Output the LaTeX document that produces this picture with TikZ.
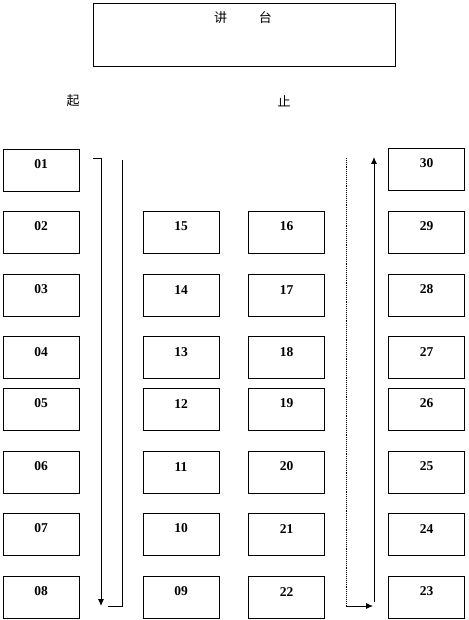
\documentclass[tikz,border=0pt]{standalone}
\usepackage{fontspec}
\setmainfont{Liberation Serif}
\newfontfamily\cjk{Noto Sans CJK SC}
\usetikzlibrary{arrows.meta}
\begin{document}
\begin{tikzpicture}[x=1pt,y=-1pt,
  seat/.style={draw, line width=0.9pt, minimum width=76pt, minimum height=42pt, inner sep=0pt},
  num/.style={font=\fontsize{13.5pt}{13.5pt}\selectfont\bfseries},
  route/.style={line width=0.9pt},
  tip/.style={-{Latex[length=7pt,width=6pt]}}]
\useasboundingbox (0,0) rectangle (468,620);
% lectern
\node[draw, line width=0.9pt, minimum width=302pt, minimum height=63pt, inner sep=0pt] (desk) at (244,34.5) {};
\node[font=\cjk\fontsize{13pt}{13pt}\selectfont] (desklabel) at (243,18) {讲\hspace{32pt}台};
\node[font=\cjk\fontsize{13pt}{13pt}\selectfont] (qi) at (73,101) {起};
\node[font=\cjk\fontsize{13pt}{13pt}\selectfont] (zhi) at (284,101) {止};
% seats
\foreach \n/\x/\y in {01/41/170, 02/41/232, 03/41/295, 04/41/357.5, 05/41/409, 06/41/472, 07/41/534, 08/41/597,
  09/181/597, 10/181/534, 11/181/472, 12/181/409, 13/181/357.5, 14/181/295, 15/181/232,
  16/286.5/232, 17/286.5/295, 18/286.5/357.5, 19/286.5/409, 20/286.5/472, 21/286.5/534, 22/286.5/597,
  23/426.5/597, 24/426.5/534, 25/426.5/472, 26/426.5/409, 27/426.5/357.5, 28/426.5/295, 29/426.5/232, 30/426.5/169}
  \node[seat, label={[num, anchor=center, yshift=-16pt]north:\n}] (s\n) at (\x,\y) {};
% routes
\coordinate (a0) at (93,158);
\coordinate (a1) at (101,158);
\coordinate (a2) at (101,606);
\draw[route, tip] (a0) -- (a1) -- (a2);
\coordinate (b0) at (108,606);
\coordinate (b1) at (122,606);
\coordinate (b2) at (122,160);
\draw[route] (b0) -- (b1) -- (b2);
\coordinate (c0) at (346,158);
\coordinate (c1) at (346,606);
\coordinate (c2) at (373,606);
\draw[route, densely dotted] (c0) -- (c1);
\draw[route, tip] (c1) -- (c2);
\coordinate (d0) at (374,602);
\coordinate (d1) at (374,157);
\draw[route, tip] (d0) -- (d1);
\end{tikzpicture}
\end{document}
